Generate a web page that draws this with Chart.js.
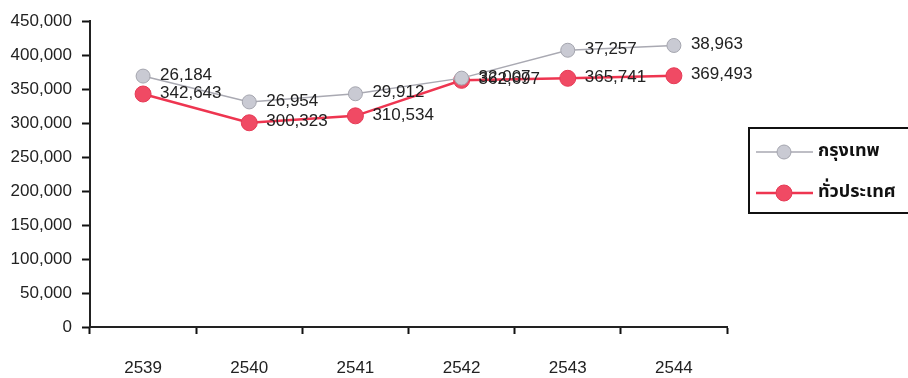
<!DOCTYPE html>
<html>
<head>
<meta charset="utf-8">
<script src="https://cdn.jsdelivr.net/npm/chart.js@4"></script>
<style>
html,body{margin:0;padding:0;background:#fff;}
#wrap{position:relative;width:908px;height:378px;}
</style>
</head>
<body>
<div id="wrap"><canvas id="c" width="908" height="378"></canvas></div>
<script>
const categories = ['2539','2540','2541','2542','2543','2544'];
const seriesNames = ['กรุงเทพ','ทั่วประเทศ'];
const bangkokValues = [369000, 331000, 343000, 366000, 407000, 414000];
const bangkokLabels = ['26,184','26,954','29,912','32,007','37,257','38,963'];
const nationValues = [342643, 300323, 310534, 362697, 365741, 369493];
const nationLabels = ['342,643','300,323','310,534','362,697','365,741','369,493'];
const yTicks = [0,50000,100000,150000,200000,250000,300000,350000,400000,450000];

const FONT = "'Liberation Sans', Arial, sans-serif";
const THAI = "'Noto Sans Thai','Noto Sans','DejaVu Sans','Loma','Garuda',sans-serif";

const labelsPlugin = {
  id: 'pointLabels',
  afterDatasetsDraw(chart) {
    const ctx = chart.ctx;
    const sets = [bangkokLabels, nationLabels];
    ctx.save();
    ctx.font = '17px ' + FONT;
    ctx.fillStyle = '#222';
    ctx.textBaseline = 'middle';
    ctx.textAlign = 'left';
    sets.forEach((labs, di) => {
      const meta = chart.getDatasetMeta(di);
      meta.data.forEach((pt, i) => {
        ctx.fillText(labs[i], pt.x + 17, pt.y - 1);
      });
    });
    ctx.restore();
  }
};

const legendPlugin = {
  id: 'boxLegend',
  afterDraw(chart) {
    const ctx = chart.ctx;
    ctx.save();
    ctx.strokeStyle = '#111';
    ctx.lineWidth = 2;
    ctx.strokeRect(749, 128, 170, 85);
    const rows = [
      {y: 152, ds: chart.data.datasets[0]},
      {y: 193, ds: chart.data.datasets[1]}
    ];
    rows.forEach(r => {
      ctx.strokeStyle = r.ds.borderColor;
      ctx.lineWidth = r.ds.borderWidth;
      ctx.beginPath();
      ctx.moveTo(756, r.y);
      ctx.lineTo(813, r.y);
      ctx.stroke();
      ctx.beginPath();
      ctx.arc(784, r.y, r.ds.pointRadius, 0, Math.PI * 2);
      ctx.fillStyle = r.ds.pointBackgroundColor;
      ctx.fill();
      ctx.lineWidth = 1;
      ctx.strokeStyle = r.ds.pointBorderColor;
      ctx.stroke();
      ctx.fillStyle = '#111';
      ctx.font = 'bold 18px ' + THAI;
      ctx.textBaseline = 'middle';
      ctx.textAlign = 'left';
      ctx.fillText(r.ds.label, 818, r.y);
    });
    ctx.restore();
  }
};

new Chart(document.getElementById('c'), {
  type: 'line',
  data: {
    labels: categories,
    datasets: [
      {
        label: seriesNames[0],
        data: bangkokValues,
        borderColor: '#a9a9b2',
        borderWidth: 1.5,
        pointRadius: 7,
        pointBackgroundColor: '#c9cad3',
        pointBorderColor: '#a4a5ae',
        pointBorderWidth: 1,
        tension: 0
      },
      {
        label: seriesNames[1],
        data: nationValues,
        borderColor: '#ee3550',
        borderWidth: 2.5,
        pointRadius: 8,
        pointBackgroundColor: '#f04a64',
        pointBorderColor: '#e63a55',
        pointBorderWidth: 1,
        tension: 0
      }
    ]
  },
  options: {
    responsive: false,
    animation: false,
    layout: {padding: {left: 0, right: 181, top: 21, bottom: 0}},
    plugins: {legend: {display: false}, tooltip: {enabled: false}},
    scales: {
      x: {
        offset: true,
        grid: {offset: true, drawOnChartArea: false, drawTicks: true, tickLength: 7, color: '#111', tickWidth: 2},
        border: {display: true, color: '#222', width: 2},
        ticks: {font: {family: FONT, size: 17}, color: '#222', padding: 24, maxRotation: 0},
        afterFit(s) { s.height = 51; }
      },
      y: {
        min: 0, max: 450000,
        afterBuildTicks(s) { s.ticks = yTicks.map(v => ({value: v})); },
        grid: {drawOnChartArea: false, drawTicks: true, tickLength: 8, color: '#111', tickWidth: 2},
        border: {display: true, color: '#222', width: 2},
        ticks: {font: {family: FONT, size: 17}, color: '#222', padding: 10,
          callback: v => v.toLocaleString('en-US')},
        afterFit(s) { s.width = 90; }
      }
    }
  },
  plugins: [labelsPlugin, legendPlugin]
});
</script>
</body>
</html>
